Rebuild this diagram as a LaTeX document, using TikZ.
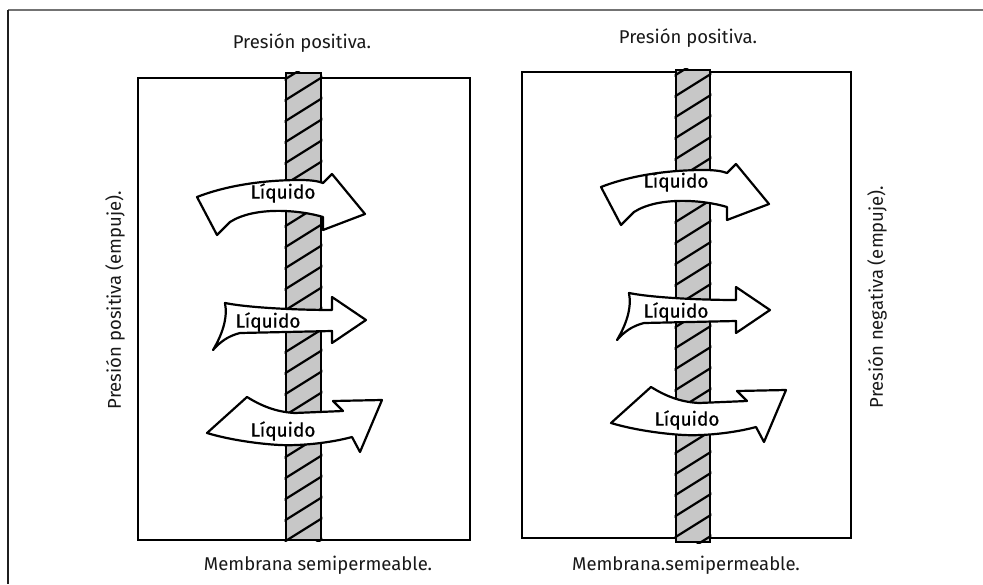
\documentclass[tikz,border=0pt]{standalone}
\usepackage{fontspec}
\setmainfont{Fira Sans}
\newfontfamily\liqfont{Fira Sans}[FakeBold=0.6]
\begin{document}
\begin{tikzpicture}[x=1pt,y=-1pt,
  lbl/.style={font=\fontsize{18.5}{20}\selectfont, text=black!90, inner sep=0pt},
  liq/.style={font=\liqfont\fontsize{19}{20}\selectfont, text=black, inner sep=0pt},
  boxline/.style={draw=black, line width=2.8pt},
  membrane/.style={draw=black, line width=2.8pt, fill=black!22, inner sep=0pt},
  hatch/.style={draw=black, line width=2.2pt},
  flow/.style={draw=black, line width=2.2pt, fill=white, line join=round}]
\useasboundingbox (0,0) rectangle (983,584);
\fill[white] (0,0) rectangle (983,584);
% outer frame
\draw[line width=2pt, black!55] (8,10) -- (983,10);
\draw[line width=2pt, black!88] (8,10) -- (8,584);

% ---------- left panel ----------
\node[boxline, minimum width=332pt, minimum height=462pt, inner sep=0pt] (b1) at (304,309) {};
\node[membrane, minimum width=35pt, minimum height=467pt] (m1) at (303.5,306.5) {};
\begin{scope}
  \clip (m1.south west) rectangle (m1.north east);
  \foreach \k in {0,...,24} \draw[hatch] (284,80+\k*21) -- ++(40,-25);
\end{scope}
\node[membrane, fill=none, minimum width=35pt, minimum height=467pt] at (303.5,306.5) {};

% top arrow
\draw[flow] (197,197) .. controls (225,186) and (262,180) .. (300,180)
  .. controls (310,180) and (318,181) .. (323,183) -- (332,174) -- (365,214)
  -- (323,230) -- (323,217) .. controls (300,210) and (255,206) .. (230,222)
  -- (217,235) -- cycle;
\node[liq] (l1) at (283,193) {Líquido};
% middle arrow
\draw[flow] (225,303) .. controls (250,308) and (300,310) .. (332,310)
  -- (332,297) -- (366,320) -- (332,343) -- (332,331) -- (240,333)
  .. controls (228,336) and (220,342) .. (213,350)
  .. controls (222,335) and (228,318) .. (225,303) -- cycle;
\node[liq] (l2) at (268,322) {Líquido};
% bottom arrow
\draw[flow] (207,433) -- (247,397) .. controls (260,405) and (275,412) .. (295,413)
  -- (343,411) -- (333,401) -- (382,400) -- (360,452) -- (352,437)
  .. controls (330,443) and (300,446) .. (280,445)
  .. controls (260,444) and (230,440) .. (207,433) -- cycle;
\node[liq] (l3) at (283,431) {Líquido};

\node[lbl] (t1) at (302,43) {Presión positiva.};
\node[lbl] (s1) at (318,565) {Membrana semipermeable.};
\node[lbl, rotate=90] (p1) at (115,300) {Presión positiva (empuje).};

% ---------- right panel ----------
\node[boxline, minimum width=329pt, minimum height=466pt, inner sep=0pt] (b2) at (686.5,305) {};
\node[membrane, minimum width=34pt, minimum height=472pt] (m2) at (693,306) {};
\begin{scope}
  \clip (m2.south west) rectangle (m2.north east);
  \foreach \k in {0,...,24} \draw[hatch] (674,76+\k*21) -- ++(40,-25);
\end{scope}
\node[membrane, fill=none, minimum width=34pt, minimum height=472pt] at (693,306) {};

\begin{scope}[shift={(404,-10)}]
\draw[flow] (197,197) .. controls (225,186) and (262,180) .. (300,180)
  .. controls (310,180) and (318,181) .. (323,183) -- (332,174) -- (365,214)
  -- (323,230) -- (323,217) .. controls (300,210) and (255,206) .. (230,222)
  -- (217,235) -- cycle;
\draw[flow] (225,303) .. controls (250,308) and (300,310) .. (332,310)
  -- (332,297) -- (366,320) -- (332,343) -- (332,331) -- (240,333)
  .. controls (228,336) and (220,342) .. (213,350)
  .. controls (222,335) and (228,318) .. (225,303) -- cycle;
\draw[flow] (207,433) -- (247,397) .. controls (260,405) and (275,412) .. (295,413)
  -- (343,411) -- (333,401) -- (382,400) -- (360,452) -- (352,437)
  .. controls (330,443) and (300,446) .. (280,445)
  .. controls (260,444) and (230,440) .. (207,433) -- cycle;
\end{scope}
\node[liq] (r1) at (676,182) {Líquido};
\node[liq] (r2) at (676,312) {Líquido};
\node[liq] (r3) at (687,420) {Líquido};

\node[lbl] (t2) at (688,38) {Presión positiva.};
\node[lbl] (s2) at (686,565) {Membrana.semipermeable.};
\node[lbl, rotate=90] (p2) at (877,297) {Presión negativa (empuje).};
\end{tikzpicture}
\end{document}
